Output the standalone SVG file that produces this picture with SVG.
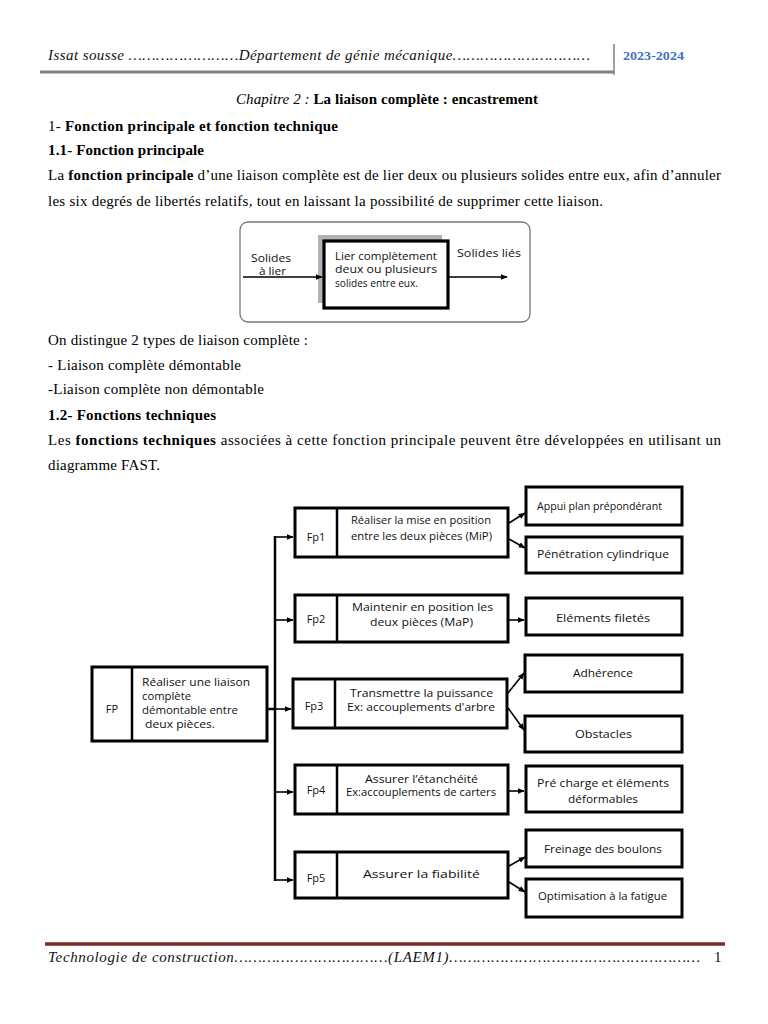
<svg xmlns="http://www.w3.org/2000/svg" width="768" height="1024" viewBox="0 0 768 1024">
<defs>
<style>
.doc{font-family:"Liberation Serif","Times New Roman",serif;font-size:15px;fill:#000}
.it{font-style:italic}
.b{font-weight:bold}
.hdr{font-family:"Liberation Serif",serif;font-style:italic;font-size:15px;fill:#111}
.cs{font-family:"Open Sans","DejaVu Sans",sans-serif;font-size:11px;fill:#111}
.box{fill:#fff;stroke:#000;stroke-width:3}
.ln{fill:none;stroke:#000;stroke-width:2.5}
.thin{fill:none;stroke:#000;stroke-width:1.6}
</style>
<marker id="ah" viewBox="0 0 10 10" refX="9" refY="5" markerWidth="7" markerHeight="7" markerUnits="userSpaceOnUse" orient="auto">
<path d="M0,1 L10,5 L0,9 z" fill="#000"/>
</marker>
</defs>
<rect width="768" height="1024" fill="#fff"/>

<!-- header -->
<g id="header">
<text class="hdr" x="48" y="60" textLength="542">Issat sousse ……………………Département de génie mécanique…………………………</text>
<line x1="40" y1="72" x2="614" y2="72" stroke="#808080" stroke-width="3"/>
<line x1="614" y1="44" x2="614" y2="75" stroke="#808080" stroke-width="1.5"/>
<text x="623" y="60" font-family="Liberation Serif,serif" font-weight="bold" font-size="13" fill="#4472c4" textLength="61" lengthAdjust="spacingAndGlyphs">2023-2024</text>
</g>

<!-- body text -->
<g id="body">
<text class="doc" x="236" y="104" textLength="302"><tspan class="it">Chapitre 2 : </tspan><tspan class="b">La liaison complète : encastrement</tspan></text>
<text class="doc" x="48" y="131" textLength="290">1- <tspan class="b">Fonction principale et fonction technique</tspan></text>
<text class="doc b" x="48" y="155" textLength="156">1.1- Fonction principale</text>
<text class="doc" x="48" y="180" textLength="673">La <tspan class="b">fonction principale</tspan> d’une liaison complète est de lier deux ou plusieurs solides entre eux, afin d’annuler</text>
<text class="doc" x="48" y="206" textLength="555">les six degrés de libertés relatifs, tout en laissant la possibilité de supprimer cette liaison.</text>
<text class="doc" x="48" y="345" textLength="260">On distingue 2 types de liaison complète :</text>
<text class="doc" x="48" y="370" textLength="193">- Liaison complète démontable</text>
<text class="doc" x="48" y="394" textLength="216">-Liaison complète non démontable</text>
<text class="doc b" x="48" y="420" textLength="168">1.2- Fonctions techniques</text>
<text class="doc" x="48" y="445" textLength="673">Les <tspan class="b">fonctions techniques</tspan> associées à cette fonction principale peuvent être développées en utilisant un</text>
<text class="doc" x="48" y="470" textLength="112">diagramme FAST.</text>
</g>

<!-- diagram 1 -->
<g id="fp-diagram">
<rect x="240" y="222" width="290" height="100" rx="8" fill="#fff" stroke="#777" stroke-width="1.3"/>
<rect x="318" y="235" width="124" height="68" fill="#b3b3b3"/>
<rect x="324" y="241" width="124" height="67" fill="#fff" stroke="#000" stroke-width="3.2"/>
<text class="cs" x="335" y="260" textLength="102" lengthAdjust="spacingAndGlyphs">Lier complètement</text>
<text class="cs" x="335" y="273" textLength="102" lengthAdjust="spacingAndGlyphs">deux ou plusieurs</text>
<text class="cs" x="335" y="287" textLength="83" lengthAdjust="spacingAndGlyphs">solides entre eux.</text>
<text class="cs" x="251" y="262" textLength="40" lengthAdjust="spacingAndGlyphs">Solides</text>
<text class="cs" x="259" y="275" textLength="27" lengthAdjust="spacingAndGlyphs">à lier</text>
<text class="cs" x="457" y="257" textLength="64" lengthAdjust="spacingAndGlyphs">Solides liés</text>
<line x1="243" y1="277" x2="322" y2="277" class="thin" marker-end="url(#ah)"/>
<line x1="449" y1="277" x2="507" y2="277" class="thin" marker-end="url(#ah)"/>
</g>

<!-- FAST nodes -->
<g id="FP">
<rect class="box" x="92" y="667" width="175" height="74"/>
<line class="ln" x1="132" y1="667" x2="132" y2="741"/>
<text class="cs" x="112" y="713" text-anchor="middle">FP</text>
<text class="cs" x="142" y="686" textLength="108" lengthAdjust="spacingAndGlyphs">Réaliser une liaison</text>
<text class="cs" x="142" y="700" textLength="49" lengthAdjust="spacingAndGlyphs">complète</text>
<text class="cs" x="142" y="714" textLength="96" lengthAdjust="spacingAndGlyphs">démontable entre</text>
<text class="cs" x="145" y="728" textLength="70" lengthAdjust="spacingAndGlyphs">deux pièces.</text>
</g>
<g id="Fp1">
<rect class="box" x="295" y="508" width="213" height="49"/>
<line class="ln" x1="337" y1="508" x2="337" y2="557"/>
<text class="cs" x="316" y="541" text-anchor="middle">Fp1</text>
<text class="cs" x="351" y="524" textLength="140" lengthAdjust="spacingAndGlyphs">Réaliser la mise en position</text>
<text class="cs" x="351" y="540" textLength="141" lengthAdjust="spacingAndGlyphs">entre les deux pièces (MiP)</text>
</g>
<g id="Fp2">
<rect class="box" x="295" y="595" width="213" height="47"/>
<line class="ln" x1="337" y1="595" x2="337" y2="642"/>
<text class="cs" x="316" y="623" text-anchor="middle">Fp2</text>
<text class="cs" x="352" y="611" textLength="141" lengthAdjust="spacingAndGlyphs">Maintenir en position les</text>
<text class="cs" x="370" y="626" textLength="103" lengthAdjust="spacingAndGlyphs">deux pièces (MaP)</text>
</g>
<g id="Fp3">
<rect class="box" x="293" y="679" width="214" height="49"/>
<line class="ln" x1="335" y1="679" x2="335" y2="728"/>
<text class="cs" x="314" y="710" text-anchor="middle">Fp3</text>
<text class="cs" x="350" y="697" textLength="143" lengthAdjust="spacingAndGlyphs">Transmettre la puissance</text>
<text class="cs" x="347" y="711" textLength="148" lengthAdjust="spacingAndGlyphs">Ex: accouplements d'arbre</text>
</g>
<g id="Fp4">
<rect class="box" x="295" y="765" width="213" height="49"/>
<line class="ln" x1="337" y1="765" x2="337" y2="814"/>
<text class="cs" x="316" y="794" text-anchor="middle">Fp4</text>
<text class="cs" x="365" y="783" textLength="113" lengthAdjust="spacingAndGlyphs">Assurer l’étanchéité</text>
<text class="cs" x="346" y="796" font-size="10" textLength="150" lengthAdjust="spacingAndGlyphs">Ex:accouplements de carters</text>
</g>
<g id="Fp5">
<rect class="box" x="295" y="852" width="213" height="46"/>
<line class="ln" x1="337" y1="852" x2="337" y2="898"/>
<text class="cs" x="316" y="882" text-anchor="middle">Fp5</text>
<text class="cs" x="363" y="878" font-size="12.5" textLength="117" lengthAdjust="spacingAndGlyphs">Assurer la fiabilité</text>
</g>
<g id="appui">
<rect class="box" x="526" y="487" width="156" height="38"/>
<text class="cs" x="537" y="510" textLength="125" lengthAdjust="spacingAndGlyphs">Appui plan prépondérant</text>
</g>
<g id="penetration">
<rect class="box" x="526" y="537" width="156" height="36"/>
<text class="cs" x="537" y="558" textLength="132" lengthAdjust="spacingAndGlyphs">Pénétration cylindrique</text>
</g>
<g id="elements-filetes">
<rect class="box" x="526" y="598" width="156" height="37"/>
<text class="cs" x="556" y="622" textLength="94" lengthAdjust="spacingAndGlyphs">Eléments filetés</text>
</g>
<g id="adherence">
<rect class="box" x="525" y="655" width="157" height="37"/>
<text class="cs" x="573" y="677" textLength="60" lengthAdjust="spacingAndGlyphs">Adhérence</text>
</g>
<g id="obstacles">
<rect class="box" x="525" y="716" width="157" height="36"/>
<text class="cs" x="575" y="738" textLength="57" lengthAdjust="spacingAndGlyphs">Obstacles</text>
</g>
<g id="precharge">
<rect class="box" x="526" y="766" width="156" height="46"/>
<text class="cs" x="537" y="787" textLength="132" lengthAdjust="spacingAndGlyphs">Pré charge et éléments</text>
<text class="cs" x="568" y="803" textLength="70" lengthAdjust="spacingAndGlyphs">déformables</text>
</g>
<g id="freinage">
<rect class="box" x="526" y="830" width="156" height="37"/>
<text class="cs" x="544" y="853" textLength="118" lengthAdjust="spacingAndGlyphs">Freinage des boulons</text>
</g>
<g id="optimisation">
<rect class="box" x="526" y="879" width="156" height="38"/>
<text class="cs" x="538" y="900" font-size="10.3" textLength="129" lengthAdjust="spacingAndGlyphs">Optimisation à la fatigue</text>
</g>

<!-- connectors -->
<g id="connectors">
<polyline class="ln" points="267,709 275,709"/>
<line class="ln" x1="275" y1="536" x2="275" y2="881"/>
<line class="thin" x1="275" y1="537" x2="293" y2="537" marker-end="url(#ah)"/>
<line class="thin" x1="275" y1="620" x2="293" y2="620" marker-end="url(#ah)"/>
<line class="thin" x1="275" y1="709" x2="291" y2="709" marker-end="url(#ah)"/>
<line class="thin" x1="275" y1="792" x2="293" y2="792" marker-end="url(#ah)"/>
<line class="thin" x1="275" y1="880" x2="293" y2="880" marker-end="url(#ah)"/>
<line class="thin" x1="509" y1="523" x2="525" y2="513" marker-end="url(#ah)"/>
<line class="thin" x1="509" y1="539" x2="525" y2="548" marker-end="url(#ah)"/>
<line class="thin" x1="509" y1="620" x2="524" y2="620" marker-end="url(#ah)"/>
<line class="thin" x1="508" y1="693" x2="524" y2="673" marker-end="url(#ah)"/>
<line class="thin" x1="508" y1="708" x2="524" y2="730" marker-end="url(#ah)"/>
<line class="thin" x1="509" y1="791" x2="524" y2="791" marker-end="url(#ah)"/>
<line class="thin" x1="509" y1="866" x2="525" y2="857" marker-end="url(#ah)"/>
<line class="thin" x1="509" y1="882" x2="525" y2="892" marker-end="url(#ah)"/>
</g>

<!-- footer -->
<g id="footer">
<line x1="45" y1="944" x2="725" y2="944" stroke="#7a2a2a" stroke-width="3.5"/>
<text class="hdr" x="48" y="962" font-size="14" textLength="652">Technologie de construction……………………………(LAEM1)………………………………………………</text>
<text x="714" y="962" font-family="Liberation Serif,serif" font-size="15" fill="#111">1</text>
</g>
</svg>
